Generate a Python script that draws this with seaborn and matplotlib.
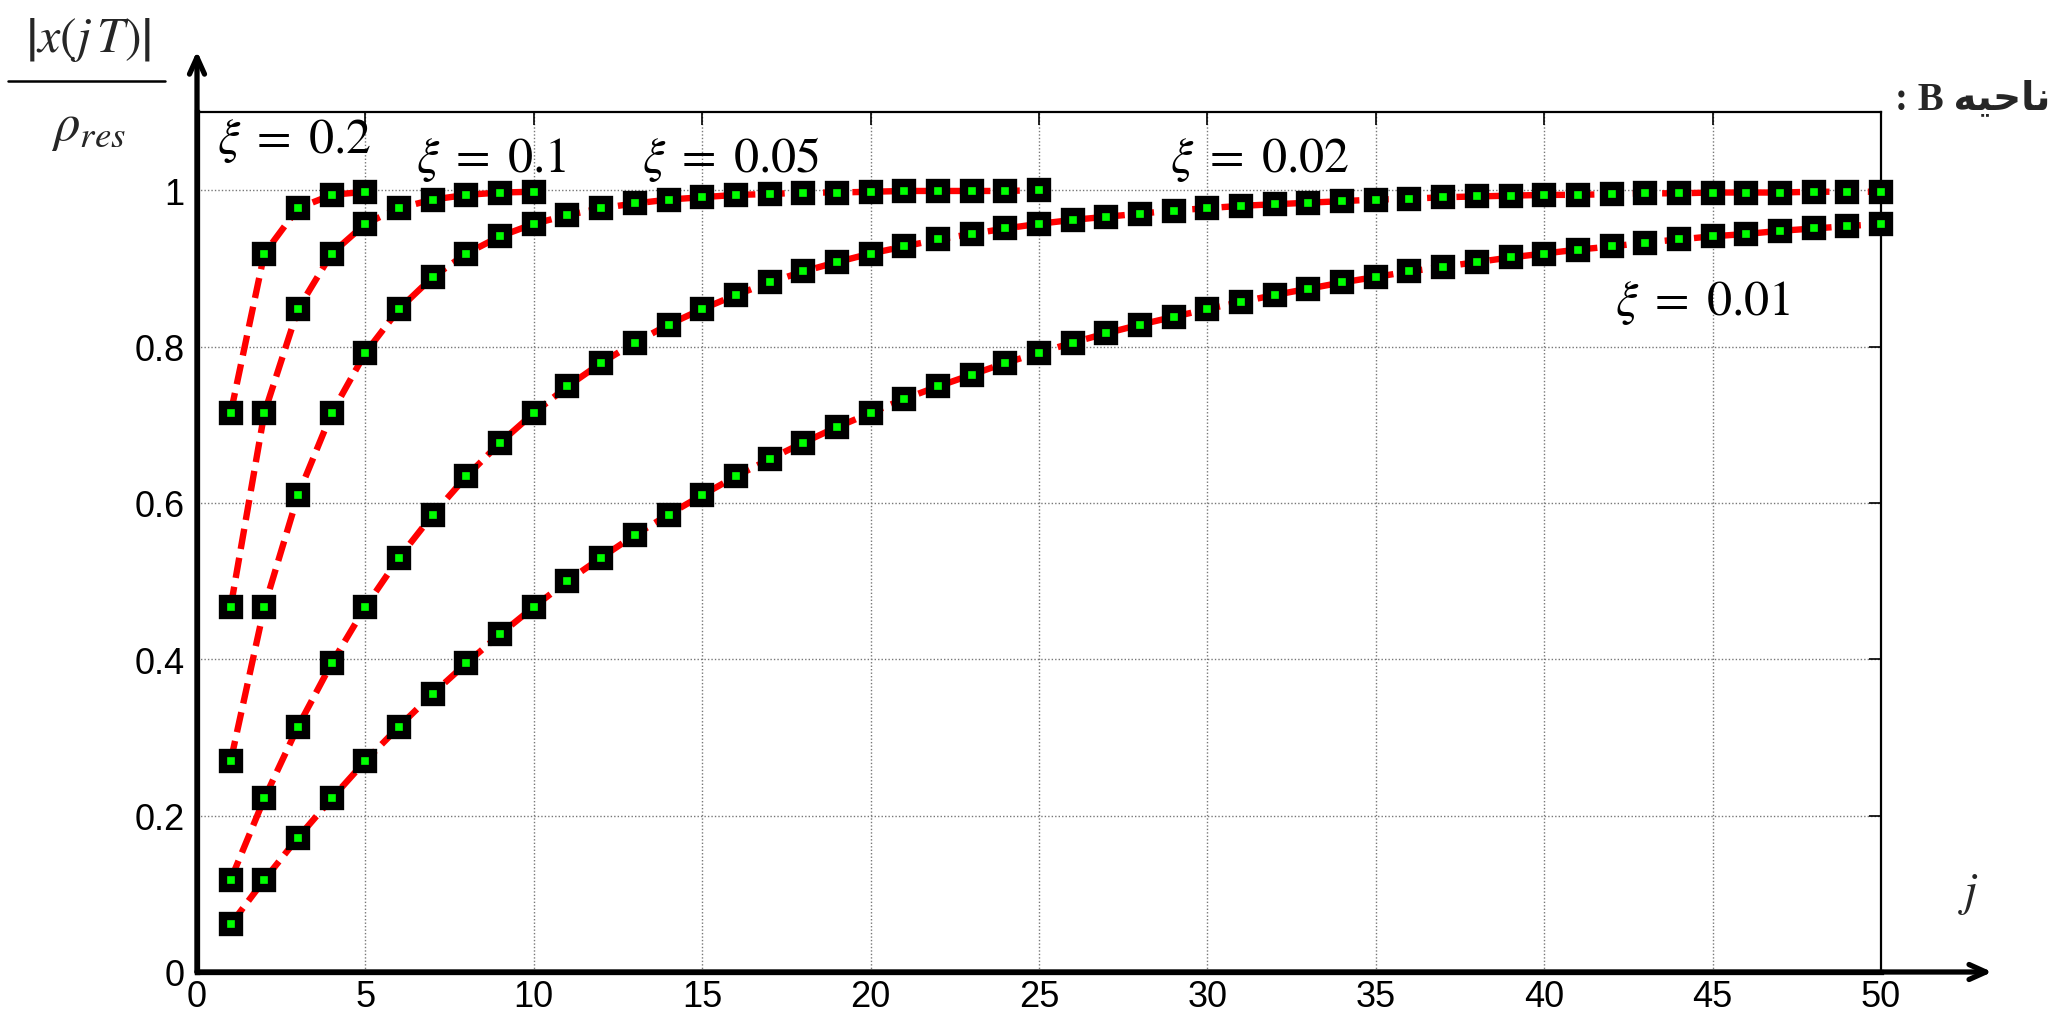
import numpy as np
import pandas as pd
import seaborn as sns
import matplotlib
matplotlib.use("Agg")
import matplotlib.pyplot as plt
from matplotlib.lines import Line2D

# ---------------- data ----------------
j_02 = [1, 2, 3, 4, 5]
x_02 = [0.715, 0.919, 0.977, 0.994, 0.998]

j_01 = list(range(1, 11))
x_01 = [0.467, 0.715, 0.848, 0.919, 0.957, 0.977, 0.988, 0.994, 0.997, 0.998]

j_005 = list(range(1, 26))
x_005 = [0.270, 0.467, 0.610, 0.715, 0.792, 0.848, 0.889, 0.919, 0.941, 0.957,
         0.968, 0.977, 0.983, 0.988, 0.991, 0.994, 0.995, 0.997, 0.997, 0.998,
         0.999, 0.999, 0.999, 0.999, 1.000]

j_002 = list(range(1, 51))
x_002 = [0.118, 0.222, 0.314, 0.395, 0.467, 0.530, 0.585, 0.634, 0.677, 0.715,
         0.749, 0.779, 0.805, 0.828, 0.848, 0.866, 0.882, 0.896, 0.908, 0.919,
         0.928, 0.937, 0.944, 0.951, 0.957, 0.962, 0.966, 0.970, 0.974, 0.977,
         0.980, 0.982, 0.984, 0.986, 0.988, 0.989, 0.991, 0.992, 0.993, 0.994,
         0.994, 0.995, 0.996, 0.996, 0.997, 0.997, 0.997, 0.998, 0.998, 0.998]

j_001 = list(range(1, 51))
x_001 = [0.061, 0.118, 0.172, 0.222, 0.270, 0.314, 0.356, 0.395, 0.432, 0.467,
         0.500, 0.530, 0.559, 0.585, 0.610, 0.634, 0.656, 0.677, 0.697, 0.715,
         0.733, 0.749, 0.764, 0.779, 0.792, 0.805, 0.817, 0.828, 0.838, 0.848,
         0.857, 0.866, 0.874, 0.882, 0.889, 0.896, 0.902, 0.908, 0.914, 0.919,
         0.924, 0.928, 0.933, 0.937, 0.941, 0.944, 0.948, 0.951, 0.954, 0.957]

series_labels = [r"$\xi\;=\;0.2$", r"$\xi\;=\;0.1$", r"$\xi\;=\;0.05$",
                 r"$\xi\;=\;0.02$", r"$\xi\;=\;0.01$"]
x_ticks = [0, 5, 10, 15, 20, 25, 30, 35, 40, 45, 50]
y_ticks = [0, 0.2, 0.4, 0.6, 0.8, 1.0]
y_tick_labels = ["0", "0.2", "0.4", "0.6", "0.8", "1"]
x_tick_labels = [str(v) for v in x_ticks]

# ---------------- style ----------------
sns.set_theme(style="white")
plt.rcParams["font.family"] = ["Liberation Sans", "DejaVu Sans"]
plt.rcParams["mathtext.fontset"] = "stix"

fig = plt.figure(figsize=(20.62, 10.20), dpi=100)
ax = fig.add_axes([197 / 2062, 1 - 973 / 1020, (1881 - 197) / 2062, (973 - 113) / 1020])

all_series = [(j_02, x_02), (j_01, x_01), (j_005, x_005), (j_002, x_002), (j_001, x_001)]
for jj, xx in all_series:
    df = pd.DataFrame({"j": jj, "x": xx})
    sns.lineplot(data=df, x="j", y="x", ax=ax, color="red", linewidth=4.6,
                 linestyle=(0, (3.2, 1.4)), marker="s", markersize=11.5,
                 markerfacecolor="#00ff00", markeredgecolor="black",
                 markeredgewidth=6.0, clip_on=False, zorder=3)

ax.set_xlim(0, 50)
ax.set_ylim(0, 1.1)
ax.set_xlabel("")
ax.set_ylabel("")
ax.set_xticks(x_ticks)
ax.set_xticklabels(x_tick_labels)
ax.set_yticks(y_ticks)
ax.set_yticklabels(y_tick_labels)
ax.tick_params(axis="both", which="major", direction="in", length=9, width=1.2,
               labelsize=26, colors="black", top=True, right=True)
ax.tick_params(axis="x", pad=5)
ax.tick_params(axis="y", pad=9)

ax.grid(True, color="#777777", linestyle=(0, (1, 1.5)), linewidth=1.0)
ax.set_axisbelow(True)

for side in ["top", "right"]:
    ax.spines[side].set_color("black")
    ax.spines[side].set_linewidth(1.6)
for side in ["left", "bottom"]:
    ax.spines[side].set_color("black")
    ax.spines[side].set_linewidth(3.8)

# axis arrows
ax.annotate("", xy=(0, 1.178), xytext=(0, 0), xycoords="data",
            arrowprops=dict(arrowstyle="->,head_length=1.0,head_width=0.45",
                            lw=3.8, color="black", shrinkA=0, shrinkB=0),
            annotation_clip=False)
ax.annotate("", xy=(53.3, 0), xytext=(0, 0), xycoords="data",
            arrowprops=dict(arrowstyle="->,head_length=1.0,head_width=0.45",
                            lw=3.8, color="black", shrinkA=0, shrinkB=0),
            annotation_clip=False)

# series annotations
label_pos = [(0.6, 1.064), (6.5, 1.040), (13.2, 1.040), (28.9, 1.040), (42.1, 0.857)]
for lab, (px, py) in zip(series_labels, label_pos):
    ax.text(px, py, lab, fontsize=36, ha="left", va="center", color="black",
            clip_on=False)

ax.text(52.6, 0.10, r"$j$", fontsize=34, ha="center", va="center", clip_on=False)

# y label as fraction
fig.text(88 / 2062, 1 - 40 / 1020, r"$\left|x(j\,T)\right|$", fontsize=36,
         ha="center", va="center")
fig.add_artist(Line2D([8 / 2062, 165 / 2062], [1 - 82 / 1020, 1 - 82 / 1020],
                      color="black", lw=1.8))
fig.text(88 / 2062, 1 - 128 / 1020, r"$\rho_{res}$", fontsize=38,
         ha="center", va="center")

# region label (Persian, visual order with presentation forms)
fig.text(2050 / 2062, 1 - 100 / 1020, ": B \uFEEA\uFBFF\uFEA3\uFE8E\uFEE7",
         fontsize=28, fontweight="bold", ha="right", va="center",
         family=["Liberation Serif", "DejaVu Sans"])

fig.savefig("out.png", dpi=100)
